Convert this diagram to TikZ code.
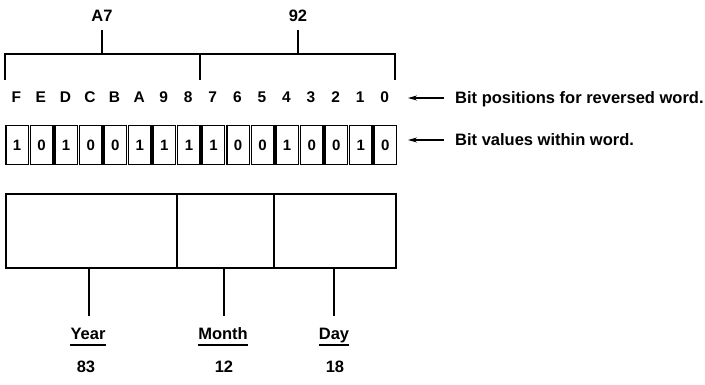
\documentclass[tikz,border=0pt]{standalone}
\usepackage{fontspec}
\setmainfont{Liberation Sans}
\usetikzlibrary{arrows.meta}
\begin{document}
\begin{tikzpicture}[x=1pt,y=-1pt,
  lbl/.style={font=\fontsize{16.5}{18}\selectfont\bfseries, inner sep=0pt},
  bitpos/.style={font=\fontsize{15.5}{18}\selectfont\bfseries, inner sep=0pt},
  cell/.style={draw, line width=1.5pt, minimum width=22.5pt, minimum height=39pt,
    inner sep=0pt, anchor=north west, font=\fontsize{15}{18}\selectfont\bfseries},
  field/.style={draw, line width=1.6pt, minimum height=74pt, inner sep=0pt, anchor=north west},
  stem/.style={line width=2.8pt},
  bracket/.style={line width=2.2pt},
  uline/.style={line width=1.5pt},
  ptr/.style={line width=1.2pt, {Stealth[length=9pt,width=5pt]}-}
]
\useasboundingbox (0,0) rectangle (705,385);

% bit positions
\foreach \p [count=\i from 0] in {F,E,D,C,B,A,9,8,7,6,5,4,3,2,1,0}
  \node[bitpos, anchor=base] (p\i) at ({16.3+\i*24.56},103) {\p};
% bit values
\foreach \v [count=\i from 0] in {1,0,1,0,0,1,1,1,1,0,0,1,0,0,1,0}
  \node[cell] (v\i) at ({5+\i*24.56},125) {\v};

% bracket
\coordinate (bl) at (5,80);
\coordinate (blt) at (5,54);
\coordinate (brt) at (395,54);
\coordinate (br) at (395,80);
\coordinate (bm) at (200,54);
\coordinate (bmb) at (200,80);
\draw[bracket] (bl) -- (blt) -- (brt) -- (br);
\draw[bracket] (bm) -- (bmb);

\node[lbl, anchor=base] (a7) at (102,22) {A7};
\node[lbl, anchor=base] (n92) at (298,22) {92};
\coordinate (a7s) at (102,30);
\coordinate (n92s) at (298,30);
\draw[stem] (a7s) -- (a7s |- blt);
\draw[stem] (n92s) -- (n92s |- blt);

% annotations
\node[lbl, anchor=base west] (t1) at (455,104) {Bit positions for reversed word.};
\node[lbl, anchor=base west] (t2) at (455,146) {Bit values within word.};
\coordinate (tip1) at (408,98);
\coordinate (tip2) at (408,140);
\draw[ptr] (tip1) -- ([xshift=-11pt]tip1 -| t1.west);
\draw[ptr] (tip2) -- ([xshift=-11pt]tip2 -| t2.west);

% date fields
\node[field, minimum width=171pt] (yr) at (5,193) {};
\node[field, minimum width=97pt] (mo) at (176,193) {};
\node[field, minimum width=122pt] (dy) at (273,193) {};

\node[lbl, anchor=base] (ylab) at (88,339) {Year};
\node[lbl, anchor=base] (mlab) at (223,339) {Month};
\node[lbl, anchor=base] (dlab) at (334,339) {Day};
\draw[uline] ([yshift=-6pt]ylab.base west) -- ([yshift=-6pt]ylab.base east);
\draw[uline] ([yshift=-6pt]mlab.base west) -- ([yshift=-6pt]mlab.base east);
\draw[uline] ([yshift=-6pt]dlab.base west) -- ([yshift=-6pt]dlab.base east);

\coordinate (ys) at (89,316);
\coordinate (ms) at (224,316);
\coordinate (ds) at (334,316);
\draw[stem] (yr.south -| ys) -- (ys);
\draw[stem] (mo.south -| ms) -- (ms);
\draw[stem] (dy.south -| ds) -- (ds);

\node[lbl, anchor=base] (y83) at (86,372) {83};
\node[lbl, anchor=base] (m12) at (224,372) {12};
\node[lbl, anchor=base] (d18) at (335,372) {18};
\end{tikzpicture}
\end{document}
